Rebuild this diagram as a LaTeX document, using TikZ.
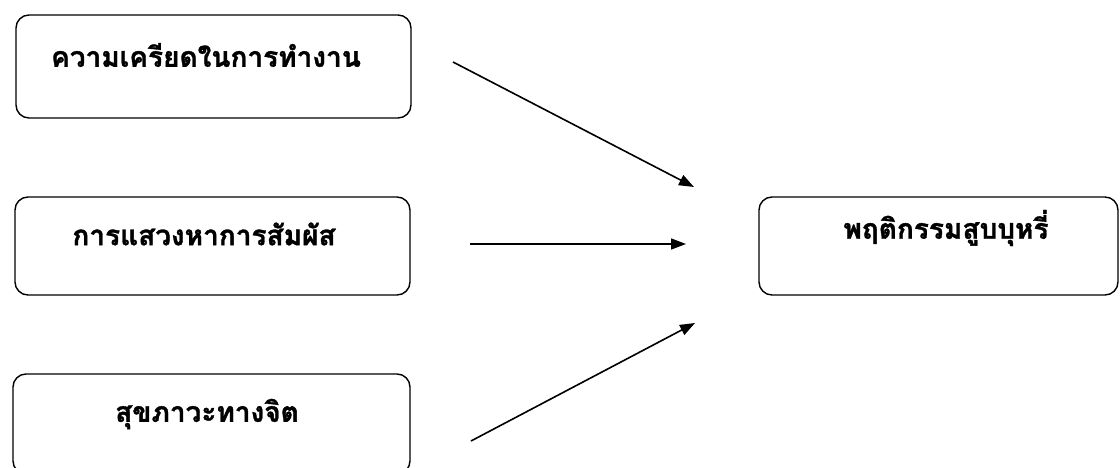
\documentclass[tikz,border=0pt]{standalone}
\usepackage{fontspec}
\newfontfamily\thaifont[Script=Thai,BoldFeatures={FakeBold=1.2}]{Loma}
\usetikzlibrary{arrows.meta}
\tikzset{
  box/.style={draw=black, line width=1.4pt, rounded corners=13pt, fill=white},
  lbl/.style={font=\thaifont\bfseries\fontsize{28}{32}\selectfont, inner sep=0pt, anchor=center},
  link/.style={line width=1.6pt, -{Triangle[length=15pt,width=11pt]}}
}
\begin{document}
\begin{tikzpicture}[x=1pt,y=-1pt]
\useasboundingbox (0,0) rectangle (1120,468);
% boxes
\node[box, minimum width=395pt, minimum height=103pt] (b1) at (213.5,66.5) {};
\node[box, minimum width=395pt, minimum height=98pt] (b2) at (212.5,246) {};
\node[box, minimum width=397pt, minimum height=100pt] (b3) at (211.5,424) {};
\node[box, minimum width=359pt, minimum height=98pt] (b4) at (938.5,246) {};
% labels
\node[lbl] (t1) at (206,55) {ความเครียดในการทำงาน};
\node[lbl] (t2) at (204,234) {การแสวงหาการสัมผัส};
\node[lbl] (t3) at (207,414) {สุขภาวะทางจิต};
\node[lbl] (t4) at (946,228) {พฤติกรรมสูบบุหรี่};
% arrow ends
\coordinate (s1) at (453,62);
\coordinate (e1) at (694,187);
\coordinate (s2) at (470,244);
\coordinate (e2) at (686,244);
\coordinate (s3) at (471,441);
\coordinate (e3) at (695,323);
\draw[link] (s1) -- (e1);
\draw[link] (s2) -- (e2);
\draw[link] (s3) -- (e3);
\end{tikzpicture}
\end{document}
